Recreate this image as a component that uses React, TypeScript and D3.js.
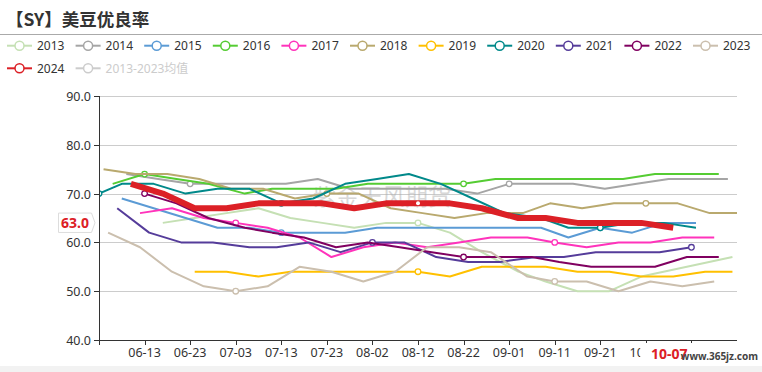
import React, { useEffect, useRef } from 'react';
import * as d3 from 'd3';

const W = 762;
const H = 372;

// weekly crop condition (good/excellent %), dates as MM-DD
const dates2013 = ['06-17','06-24','07-01','07-08','07-15','07-22','07-29','08-05','08-12','08-19','08-26','09-03','09-09','09-16','09-23','09-30','10-20'];
const vals2013 = [64,65,66,67,65,64,63,64,64,62,58,54,52,50,50,53,57];

const dates2014 = ['06-09','06-16','06-23','06-30','07-07','07-14','07-21','07-28','08-04','08-11','08-18','08-25','09-01','09-08','09-15','09-22','09-29','10-06','10-13','10-19'];
const vals2014 = [74,73,72,72,72,72,73,71,71,71,71,70,72,72,72,71,72,73,73,73];

const dates2015 = ['06-08','06-15','06-22','06-29','07-06','07-13','07-20','07-27','08-03','08-10','08-17','08-24','08-31','09-08','09-14','09-21','09-28','10-05','10-12'];
const vals2015 = [69,67,65,63,63,62,62,62,63,63,63,63,63,63,61,63,62,64,64];

const dates2016 = ['06-06','06-13','06-20','06-27','07-05','07-11','07-18','07-25','08-01','08-08','08-15','08-22','08-29','09-06','09-12','09-19','09-26','10-03','10-10','10-17'];
const vals2016 = [72,74,73,72,70,71,71,71,72,72,72,72,73,73,73,73,73,74,74,74];

const dates2017 = ['06-12','06-19','06-26','07-03','07-10','07-17','07-24','07-31','08-07','08-14','08-21','08-28','09-05','09-11','09-18','09-25','10-02','10-09','10-16'];
const vals2017 = [66,67,65,64,63,61,57,59,60,59,60,61,61,60,59,60,60,61,61];

const dates2018 = ['06-04','06-11','06-18','06-25','07-02','07-09','07-16','07-23','07-30','08-06','08-13','08-20','08-27','09-04','09-10','09-17','09-24','10-01','10-08','10-15','10-22'];
const vals2018 = [75,74,74,73,71,71,69,70,70,67,66,65,66,66,68,67,68,68,68,66,66];

const dates2019 = ['06-24','07-01','07-08','07-15','07-22','07-29','08-05','08-12','08-19','08-26','09-03','09-09','09-16','09-23','09-30','10-07','10-14','10-20'];
const vals2019 = [54,54,53,54,54,54,54,54,53,55,55,55,54,54,53,53,54,54];

const dates2020 = ['06-03','06-08','06-15','06-22','06-29','07-06','07-13','07-20','07-27','08-03','08-10','08-17','08-24','08-31','09-08','09-14','09-21','09-28','10-05','10-12'];
const vals2020 = [70,72,72,70,71,71,68,69,72,73,74,72,69,66,65,63,63,64,64,63];

const dates2021 = ['06-07','06-14','06-21','06-28','07-06','07-12','07-19','07-26','08-02','08-09','08-16','08-23','08-30','09-07','09-13','09-20','09-27','10-04','10-11'];
const vals2021 = [67,62,60,60,59,59,60,58,60,60,57,56,56,57,57,58,58,58,59];

const dates2022 = ['06-13','06-20','06-27','07-05','07-11','07-18','07-25','08-01','08-08','08-15','08-22','08-29','09-06','09-12','09-19','09-26','10-03','10-10','10-17'];
const vals2022 = [70,68,65,63,62,61,59,60,59,58,57,57,57,56,55,55,55,57,57];

const dates2023 = ['06-05','06-12','06-19','06-26','07-03','07-10','07-17','07-24','07-31','08-07','08-14','08-21','08-28','09-05','09-11','09-18','09-25','10-02','10-09','10-16'];
const vals2023 = [62,59,54,51,50,51,55,54,52,54,59,59,58,53,52,52,50,52,51,52];

const dates2024 = ['06-10','06-17','06-24','07-01','07-08','07-15','07-22','07-29','08-05','08-12','08-19','08-26','09-03','09-09','09-16','09-23','09-30','10-07'];
const vals2024 = [72,70,67,67,68,68,68,67,68,68,68,67,65,65,64,64,64,63];

const years = ['2013','2014','2015','2016','2017','2018','2019','2020','2021','2022','2023','2024'];
const yearDates = [dates2013, dates2014, dates2015, dates2016, dates2017, dates2018, dates2019, dates2020, dates2021, dates2022, dates2023, dates2024];
const yearVals = [vals2013, vals2014, vals2015, vals2016, vals2017, vals2018, vals2019, vals2020, vals2021, vals2022, vals2023, vals2024];
const colors = ['#c5e0b4','#a5a5a5','#5b9bd5','#55cc33','#ff33bb','#b9a96e','#ffc000','#00898a','#553c9a','#800060','#cbbfae','#dc2026'];
const avgName = '2013-2023均值';

const xDomain = ['06-03', '10-21'];
const xTickLabels = ['06-13','06-23','07-03','07-13','07-23','08-02','08-12','08-22','09-01','09-11','09-21','10-01'];
const markerDays = ['06-03','06-13','06-23','07-03','07-13','07-23','08-02','08-12','08-22','09-01','09-11','09-21','10-01','10-11'];
const yTicks = [40, 50, 60, 70, 80, 90];
const pointerDate = '10-07';
const pointerValue = 63;

const parse = (md: string) => d3.timeParse('%Y-%m-%d')('2001-' + md) as Date;

export default function App() {
  const ref = useRef<SVGSVGElement>(null);

  useEffect(() => {
    document.body.style.margin = '0';
    const svg = d3.select(ref.current);
    svg.selectAll('*').remove();

    const left = 99, right = 737, top = 96, bottom = 340;
    const x = d3.scaleTime().domain(xDomain.map(parse)).range([left, right]);
    const y = d3.scaleLinear().domain([40, 90]).range([bottom, top]);
    const font = '"Noto Sans", "Noto Sans CJK SC", sans-serif';

    svg.append('rect').attr('width', W).attr('height', H).attr('fill', '#fff');
    svg.append('rect').attr('y', 366).attr('width', W).attr('height', H - 366).attr('fill', '#f2f2f2');

    // title
    svg.append('text').attr('x', 6).attr('y', 26)
      .attr('font-family', '"Noto Sans CJK SC", sans-serif')
      .attr('font-weight', 'bold').attr('font-size', 17.5).attr('fill', '#333')
      .text('【SY】美豆优良率');
    svg.append('line').attr('x1', 0).attr('x2', W).attr('y1', 34.5).attr('y2', 34.5)
      .attr('stroke', '#aaa');

    // legend
    const legendItems = years.slice(0, 11).map((yr, i) => ({ name: yr, color: colors[i], row: 0, col: i }))
      .concat([{ name: '2024', color: colors[11], row: 1, col: 0 }, { name: avgName, color: '#ccc', row: 1, col: 1 }]);
    const lg = svg.append('g');
    legendItems.forEach(it => {
      const lx = 7 + it.col * 68.6;
      const ly = 45.7 + it.row * 22.6;
      const g = lg.append('g');
      g.append('line').attr('x1', lx).attr('x2', lx + 25).attr('y1', ly).attr('y2', ly)
        .attr('stroke', it.color).attr('stroke-width', 2);
      g.append('circle').attr('cx', lx + 12.5).attr('cy', ly).attr('r', 4.5)
        .attr('fill', '#fff').attr('stroke', it.color).attr('stroke-width', 1.5);
      g.append('text').attr('x', lx + 30).attr('y', ly + 4.3)
        .attr('font-family', font).attr('font-size', 12)
        .attr('fill', it.name === avgName ? '#ccc' : '#333').text(it.name);
    });

    // grid
    svg.append('g').selectAll('line').data(yTicks.slice(1)).enter().append('line')
      .attr('x1', left).attr('x2', right)
      .attr('y1', d => Math.round(y(d)) + 0.5).attr('y2', d => Math.round(y(d)) + 0.5)
      .attr('stroke', '#ccc');

    // watermark
    svg.append('text').attr('x', 382).attr('y', 205).attr('text-anchor', 'middle')
      .attr('font-family', '"Noto Sans CJK SC", sans-serif').attr('font-size', 23)
      .attr('fill', '#aaa').attr('opacity', 0.45).text('紫金天风期货');

    // series
    svg.append('clipPath').attr('id', 'plotclip').append('rect')
      .attr('x', left).attr('y', top - 10).attr('width', right - left).attr('height', bottom - top + 20);
    const line = d3.line<[Date, number]>().x(d => x(d[0])).y(d => y(d[1]));
    const sg = svg.append('g').attr('clip-path', 'url(#plotclip)');
    years.forEach((yr, i) => {
      const pts: [Date, number][] = yearDates[i].map((d, j) => [parse(d), yearVals[i][j]]);
      const is24 = yr === '2024';
      sg.append('path').datum(pts).attr('fill', 'none')
        .attr('stroke', colors[i]).attr('stroke-width', is24 ? 6 : 2)
        .attr('stroke-linejoin', 'round').attr('d', line);
      const marks = pts.filter((p, j) => markerDays.includes(yearDates[i][j]));
      sg.selectAll(null).data(marks).enter().append('circle')
        .attr('cx', d => x(d[0])).attr('cy', d => y(d[1])).attr('r', is24 ? 2 : 2.8)
        .attr('fill', '#fff').attr('stroke', is24 ? 'none' : colors[i]).attr('stroke-width', 1.3);
    });

    // axes
    const ag = svg.append('g').attr('font-family', font).attr('font-size', 12.5).attr('fill', '#333');
    ag.append('line').attr('x1', left + 0.5).attr('x2', left + 0.5).attr('y1', top).attr('y2', bottom)
      .attr('stroke', '#333');
    ag.append('line').attr('x1', left).attr('x2', right).attr('y1', bottom + 0.5).attr('y2', bottom + 0.5)
      .attr('stroke', '#333');
    yTicks.forEach(t => {
      const yy = Math.round(y(t)) + 0.5;
      ag.append('line').attr('x1', left - 5).attr('x2', left).attr('y1', yy).attr('y2', yy).attr('stroke', '#333');
      ag.append('text').attr('x', left - 8).attr('y', yy + 4.5).attr('text-anchor', 'end').text(t.toFixed(1));
    });
    markerDays.forEach(md => {
      const xx = Math.round(x(parse(md))) + 0.5;
      ag.append('line').attr('x1', xx).attr('x2', xx).attr('y1', bottom).attr('y2', bottom + 5).attr('stroke', '#333');
    });
    xTickLabels.forEach(md => {
      ag.append('text').attr('x', x(parse(md))).attr('y', bottom + 17).attr('text-anchor', 'middle').text(md);
    });

    // axis pointer labels
    const py = y(pointerValue) - 5;
    svg.append('path')
      .attr('d', `M58.5,${py - 9.7}H91.5L95,${py}L91.5,${py + 9.7}H58.5Z`)
      .attr('fill', '#fff').attr('stroke', '#ddd');
    svg.append('text').attr('x', 75).attr('y', py + 5).attr('text-anchor', 'middle')
      .attr('font-family', font).attr('font-weight', 'bold').attr('font-size', 14)
      .attr('fill', '#dc2026').text(pointerValue.toFixed(1));
    const px = x(parse(pointerDate));
    svg.append('rect').attr('x', px - 33).attr('y', 343).attr('width', 52).attr('height', 20)
      .attr('fill', '#fff');
    svg.append('text').attr('x', px - 4).attr('y', 358.5).attr('text-anchor', 'middle')
      .attr('font-family', font).attr('font-weight', 'bold').attr('font-size', 14)
      .attr('fill', '#dc2026').text(pointerDate);

    // site mark
    svg.append('text').attr('x', 758).attr('y', 360).attr('text-anchor', 'end')
      .attr('font-family', font).attr('font-weight', 'bold').attr('font-size', 10)
      .attr('fill', '#444').text('www.365jz.com');
  }, []);

  return <svg ref={ref} width={W} height={H} style={{ display: 'block' }} />;
}
